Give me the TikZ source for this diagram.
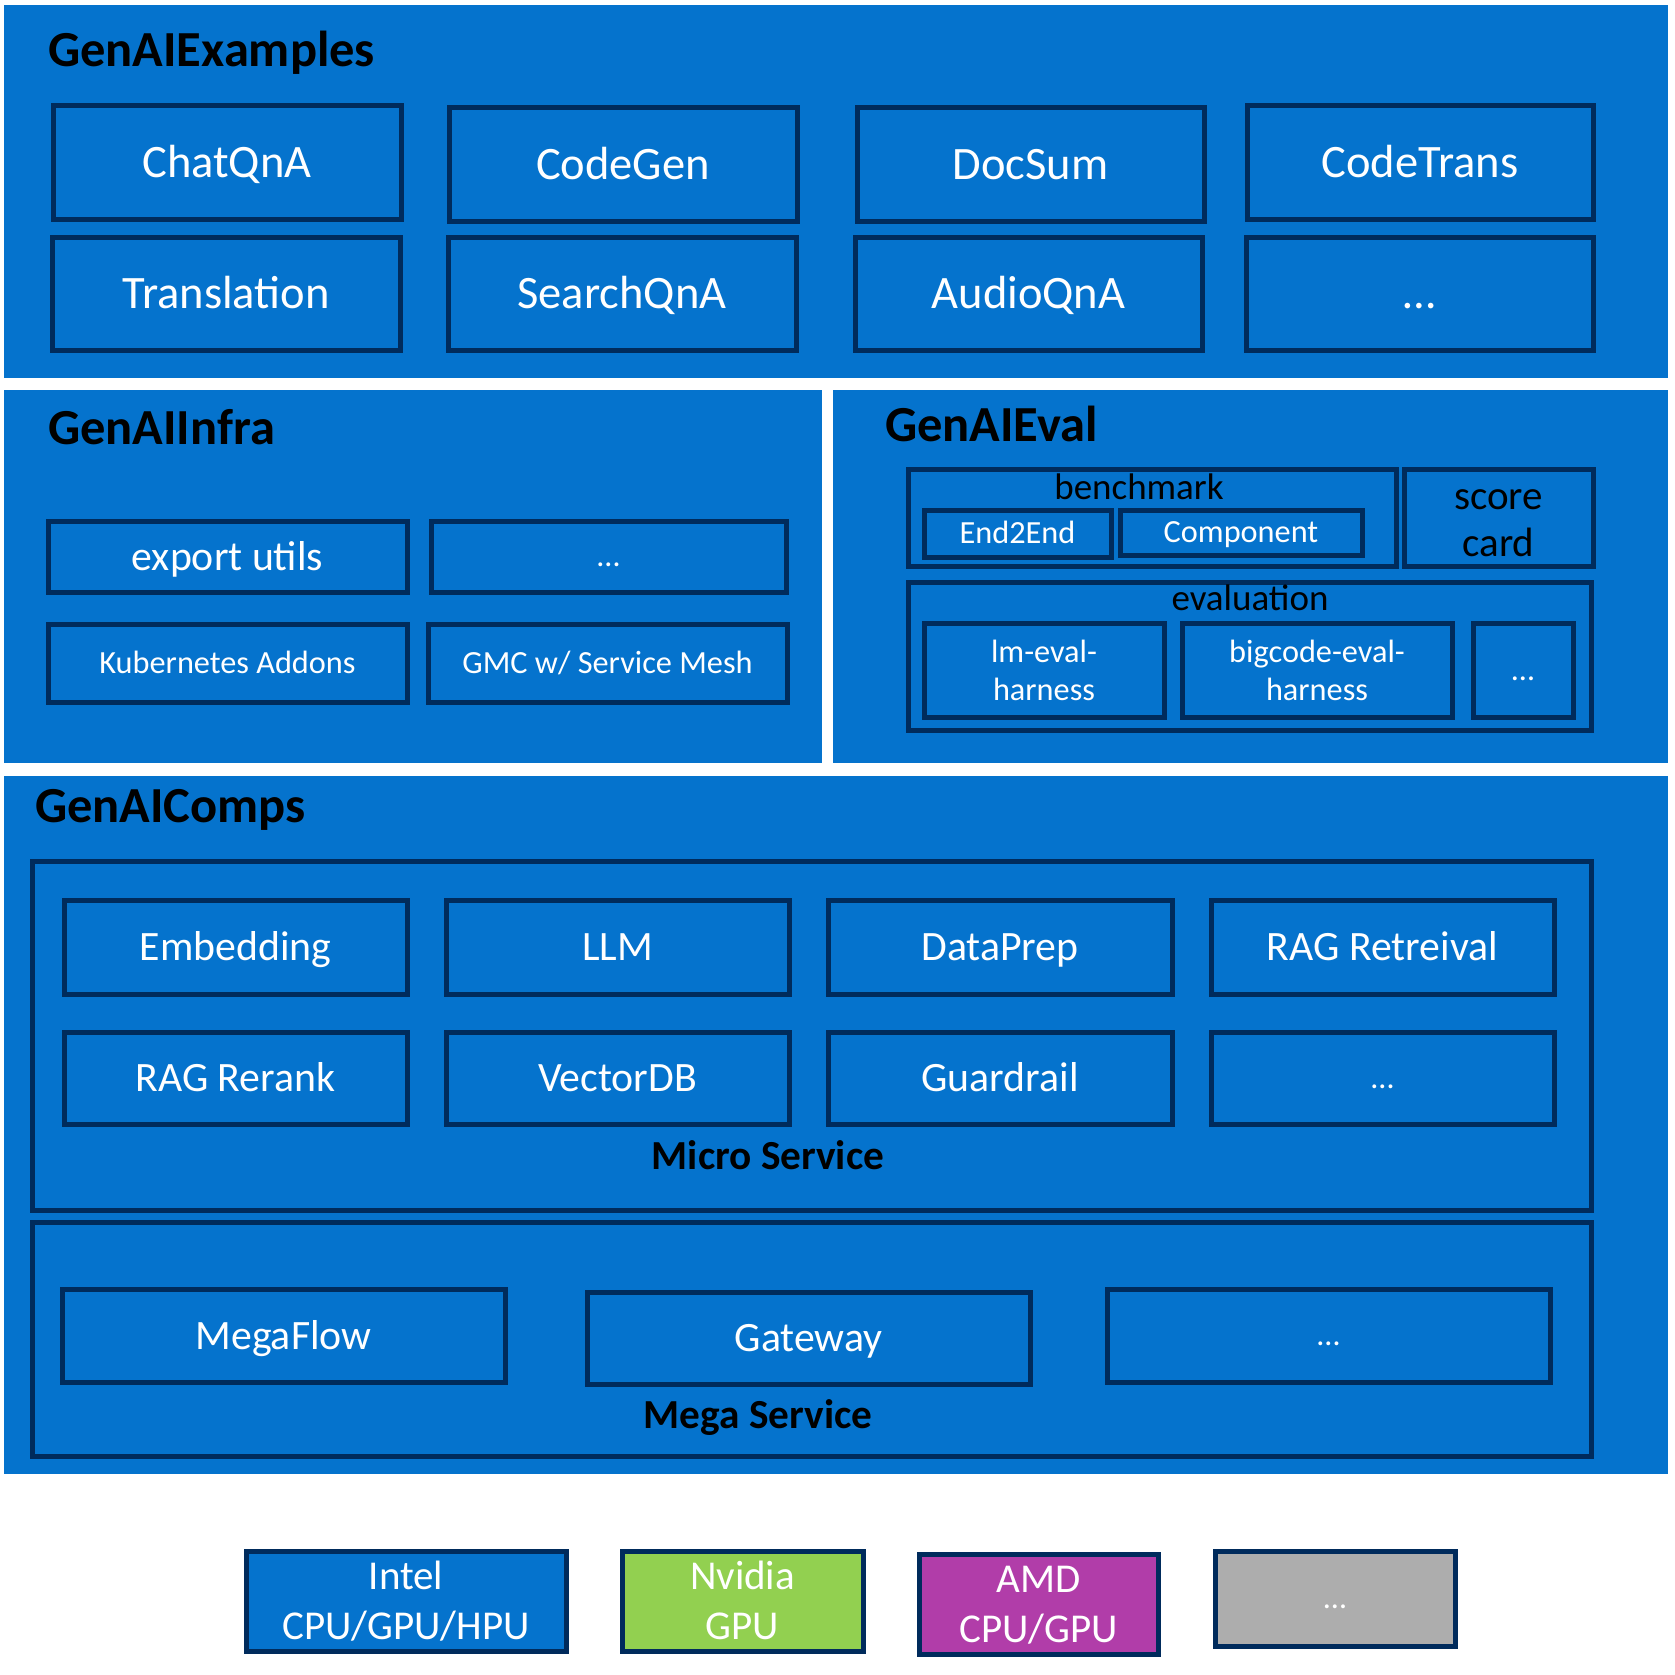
\documentclass[tikz,border=0pt]{standalone}
\usepackage{fontspec}
\setmainfont{Carlito}
\definecolor{panelblue}{RGB}{5,115,205}
\definecolor{navy}{RGB}{0,43,92}
\definecolor{nvgreen}{RGB}{146,208,80}
\definecolor{amdpurple}{RGB}{177,61,169}
\definecolor{hwgray}{RGB}{173,173,173}
\tikzset{
  panel/.style={fill=panelblue, draw=none, inner sep=0pt, outer sep=0pt},
  bbox/.style={draw=navy, line width=5pt, fill=panelblue, inner sep=0pt, outer sep=0pt, text=white, align=center},
  f45/.style={font={\fontsize{46.5}{56}\selectfont}, text height=30pt, text depth=0pt},
  f42/.style={font={\fontsize{41.8}{50}\selectfont}, text height=27pt, text depth=0pt},
  f32/.style={font={\fontsize{32.3}{38}\selectfont}, text height=20.8pt, text depth=0pt},
  m32/.style={font={\fontsize{32.3}{38}\selectfont}},
  fhw/.style={font={\fontsize{41}{50}\selectfont}},
  fsc/.style={font={\fontsize{41}{47}\selectfont}, text=black},
  ftitle/.style={font={\fontsize{50.5}{60}\selectfont\bfseries}, text=black, inner sep=0pt, anchor=base west},
  flabel/.style={font={\fontsize{37}{44}\selectfont}, text=black, inner sep=0pt, anchor=base},
  fsub/.style={font={\fontsize{41.3}{50}\selectfont\bfseries}, text=black, inner sep=0pt, anchor=base},
}
\newcommand\bx[7]{\node[#2, anchor=north west, minimum width={#5-#3}, minimum height={#6-#4}] (#1) at (#3,#4) {#7};}
\newcommand\twolines[3]{\raisebox{#3}[\height][\depth]{\begin{tabular}{@{}c@{}}#1\\#2\end{tabular}}}
\begin{document}
\begin{tikzpicture}[x=1pt,y=-1pt]
\useasboundingbox (0,0) rectangle (1674,1675);
\fill[white] (0,0) rectangle (1674,1675);
% panels
\bx{pEx}{panel}{4}{5}{1668}{378}{}
\bx{pInfra}{panel}{4}{390}{822}{763}{}
\bx{pEval}{panel}{833}{390}{1668}{763}{}
\bx{pComps}{panel}{4}{776}{1668}{1474}{}
% titles
\node[ftitle] (tEx) at (48,67) {GenAIExamples};
\node[ftitle] (tInfra) at (48,444) {GenAIInfra};
\node[ftitle] (tEval) at (885,441) {GenAIEval};
\node[ftitle] (tComps) at (35,822) {GenAIComps};
% examples
\bx{chatqna}{bbox,f45}{53}{106}{401}{219}{ChatQnA}
\bx{codegen}{bbox,f45}{449}{108}{797}{221}{CodeGen}
\bx{docsum}{bbox,f45}{857}{108}{1204}{221}{DocSum}
\bx{codetrans}{bbox,f45}{1247}{106}{1593}{219}{CodeTrans}
\bx{translation}{bbox,f45}{52}{237}{400}{350}{Translation}
\bx{searchqna}{bbox,f45}{448}{237}{796}{350}{SearchQnA}
\bx{audioqna}{bbox,f45}{855}{237}{1202}{350}{AudioQnA}
\bx{exdots}{bbox,f45}{1246}{237}{1593}{350}{…}
% infra
\bx{export}{bbox,f42}{48}{521}{407}{592}{export utils}
\bx{infradots}{bbox,f32}{431}{521}{786}{592}{…}
\bx{k8s}{bbox,f32}{48}{624}{407}{702}{Kubernetes Addons}
\bx{gmc}{bbox,f32}{428}{624}{787}{702}{GMC w/ Service Mesh}
% eval
\bx{benchmark}{bbox}{908}{469}{1396}{566}{}
\node[flabel] (benchlbl) at (1139,499) {benchmark};
\bx{scorecard}{bbox,fsc}{1404}{469}{1593}{566}{\twolines{score}{card}{-5.6pt}}
\bx{end2end}{bbox,f32}{924}{510}{1111}{557}{End2End}
\bx{component}{bbox,f32}{1120}{510}{1362}{555}{Component}
\bx{evaluation}{bbox}{908}{582}{1591}{730}{}
\node[flabel] (evallbl) at (1250,610) {evaluation};
\bx{lmeval}{bbox,m32}{924}{623}{1164}{717}{\twolines{lm-eval-}{harness}{-3.4pt}}
\bx{bigcode}{bbox,m32}{1182}{623}{1452}{717}{\twolines{bigcode-eval-}{harness}{-3.4pt}}
\bx{evaldots}{bbox,f32}{1473}{623}{1573}{717}{…}
% comps micro
\bx{micro}{bbox}{32}{861}{1591}{1210}{}
\bx{embedding}{bbox,f42}{64}{900}{407}{994}{Embedding}
\bx{llm}{bbox,f42}{446}{900}{789}{994}{LLM}
\bx{dataprep}{bbox,f42}{828}{900}{1172}{994}{DataPrep}
\bx{ragret}{bbox,f42}{1211}{900}{1554}{994}{RAG Retreival}
\bx{ragrerank}{bbox,f42}{64}{1032}{407}{1124}{RAG Rerank}
\bx{vectordb}{bbox,f42}{446}{1032}{789}{1124}{VectorDB}
\bx{guardrail}{bbox,f42}{828}{1032}{1172}{1124}{Guardrail}
\bx{microdots}{bbox,f32}{1211}{1032}{1554}{1124}{…}
\node[fsub] (microlbl) at (768,1169) {Micro Service};
% comps mega
\bx{mega}{bbox}{32}{1222}{1591}{1456}{}
\bx{megaflow}{bbox,f42}{62}{1289}{505}{1382}{MegaFlow}
\bx{gateway}{bbox,f42}{587}{1292}{1030}{1384}{Gateway}
\bx{megadots}{bbox,f32}{1107}{1289}{1550}{1382}{…}
\node[fsub] (megalbl) at (758,1428) {Mega Service};
% hardware
\bx{intel}{bbox,fhw}{246}{1551}{566}{1646}{\twolines{Intel}{CPU/GPU/HPU}{-3.5pt}}
\bx{nvidia}{bbox,fhw,fill=nvgreen}{622}{1551}{863}{1646}{\twolines{Nvidia}{GPU}{-3.5pt}}
\bx{amd}{bbox,fhw,fill=amdpurple}{919}{1554}{1158}{1647}{\twolines{AMD}{CPU/GPU}{-3.5pt}}
\bx{hwdots}{bbox,f32,fill=hwgray}{1215}{1551}{1455}{1646}{…}
\end{tikzpicture}
\end{document}
